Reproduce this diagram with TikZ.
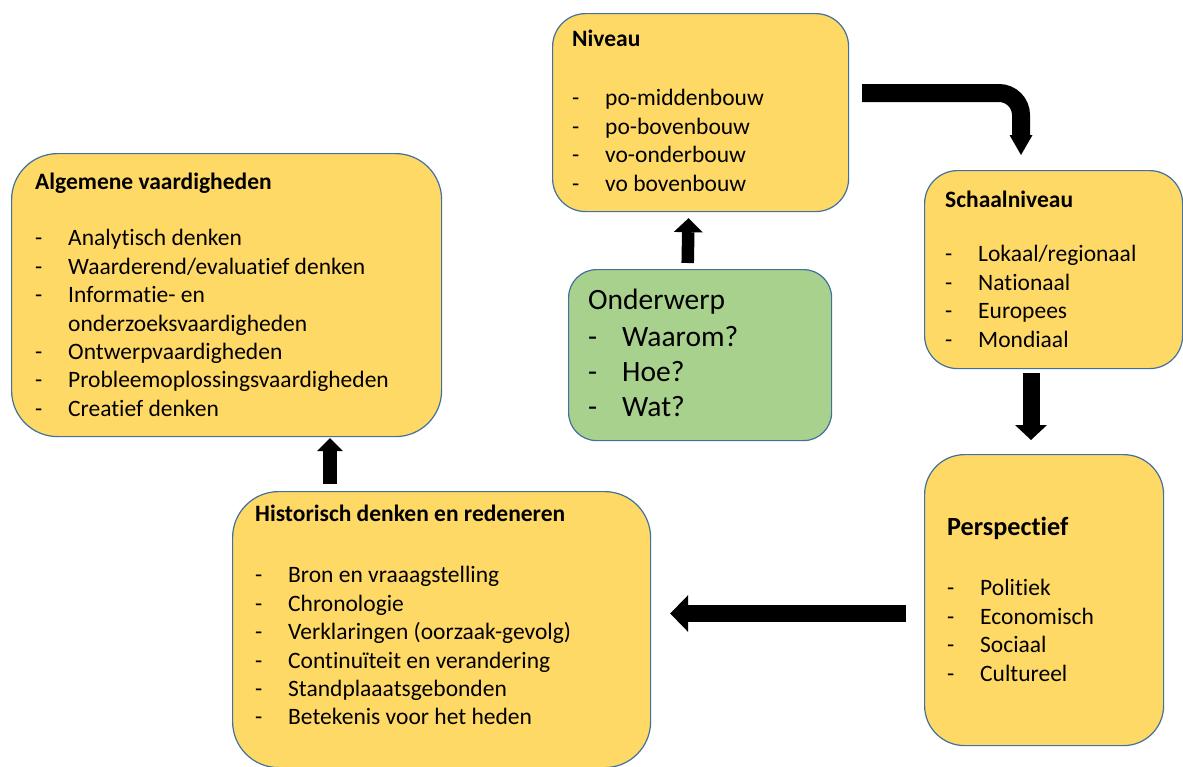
\documentclass[tikz,border=0pt]{standalone}
\usepackage{fontspec}
\setmainfont{Carlito}[Ligatures=NoCommon]
\usetikzlibrary{arrows.meta}

\definecolor{boxgold}{HTML}{FFD966}
\definecolor{boxgreen}{HTML}{A9D18E}
\definecolor{boxedge}{HTML}{41719C}

\newcommand{\dashitem}[1]{\makebox[33pt][l]{-}#1}
\newcommand{\boxtext}[1]{\parbox[t]{420pt}{\raggedright #1}}

\tikzset{
  box/.style={draw=boxedge,line width=1.2pt,fill=boxgold,inner sep=0pt,anchor=north west},
  txt/.style={anchor=base west,inner sep=0pt,font=\fontsize{23.5pt}{28.4pt}\selectfont},
  fat/.style={draw=black,line width=#1}
}

\begin{document}
\begin{tikzpicture}[x=1pt,y=-1pt]
      \useasboundingbox (0,0) rectangle (1183,766);

      % boxes
      \node[box,minimum width=296pt,minimum height=198pt,rounded corners=33pt] (niv) at (552,13) {};
      \node[box,minimum width=430pt,minimum height=283pt,rounded corners=46pt] (alg) at (11,153) {};
      \node[box,fill=boxgreen,minimum width=263pt,minimum height=171pt,rounded corners=28pt] (ond) at (568,269) {};
      \node[box,minimum width=258pt,minimum height=198pt,rounded corners=33pt] (sch) at (924,170) {};
      \node[box,minimum width=239pt,minimum height=291pt,rounded corners=40pt] (pers) at (924,454) {};
      \node[box,minimum width=418pt,minimum height=276pt,rounded corners=46pt] (hist) at (232,491) {};

      % arrows
      \coordinate (ax) at (330,0);
      \coordinate (bx) at (1021,0);
      \coordinate (by) at (0,93);
      \coordinate (cx) at (1031,0);
      \coordinate (dy) at (0,613.5);
      \draw[fat=12.5pt,-{Triangle[length=14pt,width=29pt,line width=0pt]},shorten <=6pt,shorten >=6pt]
        ([xshift=-12.5pt]ond.north) -- ([xshift=-12pt]niv.south);
      \draw[fat=18pt,-{Triangle[length=20pt,width=23pt,line width=0pt]},rounded corners=22pt,shorten <=13pt,shorten >=15pt]
        (niv.east |- by) -- (bx |- by) -- (sch.north -| bx);
      \draw[fat=17pt,-{Triangle[length=15pt,width=32pt,line width=0pt]},shorten <=4pt,shorten >=14pt]
        (sch.south -| cx) -- (pers.north -| cx);
      \draw[fat=17pt,-{Triangle[length=18pt,width=37pt,line width=0pt]},shorten <=18pt,shorten >=19pt]
        (pers.west |- dy) -- (hist.east |- dy);
      \draw[fat=14pt,-{Triangle[length=13pt,width=26pt,line width=0pt]},shorten <=7pt,shorten >=1pt]
        (hist.north -| ax) -- (alg.south -| ax);

      % texts
      \node[txt] (nivtext) at (572,46) {\boxtext{\textbf{Niveau}\\[31.5pt]
        \dashitem{po-middenbouw}\\
        \dashitem{po-bovenbouw}\\
        \dashitem{vo-onderbouw}\\
        \dashitem{vo bovenbouw}}};
      \node[txt] (algtext) at (35,189) {\boxtext{\textbf{Algemene vaardigheden}\\[28.5pt]
        \dashitem{Analytisch denken}\\
        \dashitem{Waarderend/evaluatief denken}\\
        \dashitem{Informatie- en}\\
        \hspace*{33pt}onderzoeksvaardigheden\\
        \dashitem{Ontwerpvaardigheden}\\
        \dashitem{Probleemoplossingsvaardigheden}\\
        \dashitem{Creatief denken}}};
      \node[txt,font=\fontsize{29.5pt}{35.3pt}\selectfont] (ondtext) at (588,309) {\boxtext{Onderwerp\\[2pt]
        \makebox[34pt][l]{-}Waarom?\\
        \makebox[34pt][l]{-}Hoe?\\
        \makebox[34pt][l]{-}Wat?}};
      \node[txt] (schtext) at (945,207) {\boxtext{\textbf{Schaalniveau}\\[26.5pt]
        \dashitem{Lokaal/regionaal}\\
        \dashitem{Nationaal}\\
        \dashitem{Europees}\\
        \dashitem{Mondiaal}}};
      \node[txt] (perstext) at (947,535) {\boxtext{{\fontsize{26.2pt}{28.4pt}\selectfont\textbf{Perspectief}}\\[32.5pt]
        \dashitem{Politiek}\\
        \dashitem{Economisch}\\
        \dashitem{Sociaal}\\
        \dashitem{Cultureel}}};
      \node[txt] (histtext) at (255,521) {\boxtext{\textbf{Historisch denken en redeneren}\\[33.5pt]
        \dashitem{Bron en vraaagstelling}\\
        \dashitem{Chronologie}\\
        \dashitem{Verklaringen (oorzaak-gevolg)}\\
        \dashitem{Continuïteit en verandering}\\
        \dashitem{Standplaaatsgebonden}\\
        \dashitem{Betekenis voor het heden}}};
    \end{tikzpicture}
\end{document}
